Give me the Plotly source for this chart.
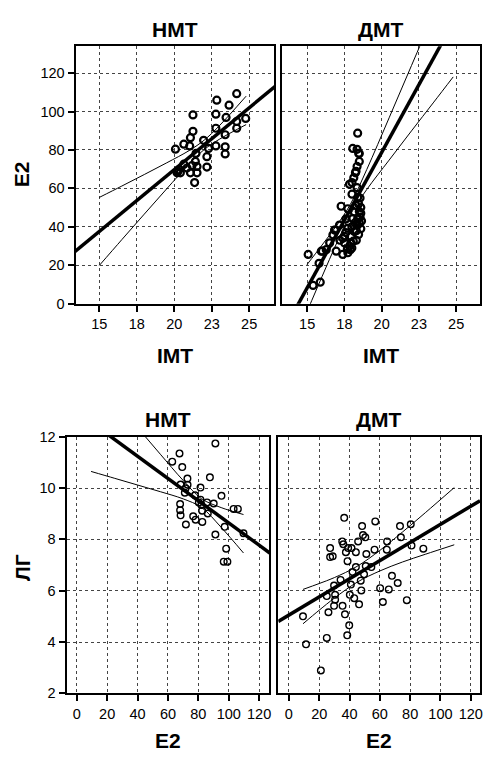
import plotly.graph_objects as go

# ---------------- data ----------------
# Top-left: НМТ, IMT vs E2
imt_nmt = [20.08, 20.64, 21.03, 21.08, 21.25, 21.25, 20.24, 20.41, 20.64, 20.30,
           21.08, 21.19, 21.41, 21.52, 21.45, 21.36, 21.52, 21.96, 22.18, 22.18,
           22.29, 22.78, 22.84, 22.78, 22.78, 23.66, 23.46, 23.40, 23.40, 23.40,
           24.17, 24.17, 24.17, 24.77, 20.19, 20.85]
e2_nmt_a = [80.4, 83.0, 82.1, 86.4, 89.7, 98.2, 68.9, 68.1, 72.6, 69.7,
            68.1, 71.9, 74.0, 71.4, 78.2, 63.0, 68.1, 85.0, 71.1, 76.5,
            80.8, 98.6, 105.9, 91.3, 82.1, 103.3, 96.9, 87.9, 81.6, 77.9,
            109.3, 94.8, 91.3, 96.4, 68.1, 70.6]

# Top-right: ДМТ, IMT vs E2
imt_dmt = [18.39, 18.06, 18.35, 18.50, 18.50, 18.35, 18.24, 18.13, 18.01, 17.84,
           18.01, 18.39, 17.28, 17.73, 18.28, 18.17, 18.39, 18.06, 18.39, 17.17,
           16.84, 17.73, 18.17, 16.73, 17.51, 17.95, 16.51, 17.51, 17.84, 16.28,
           16.95, 16.02, 17.39, 15.07, 15.80, 15.40, 15.88, 17.73, 17.95, 18.35,
           18.28, 18.46, 18.50, 18.55, 18.50, 18.60, 18.45, 18.30, 18.45, 18.60,
           18.20, 18.00, 17.60, 17.40, 17.20, 17.90, 18.00, 18.30, 18.10, 17.60,
           17.70, 18.55, 18.60, 18.65, 16.90, 15.95]
e2_dmt_a = [88.7, 80.8, 80.3, 78.2, 74.0, 71.4, 68.1, 65.5, 63.0, 62.1,
            57.0, 55.3, 50.7, 49.4, 51.1, 47.7, 44.3, 44.3, 40.9, 40.9,
            38.3, 39.2, 37.5, 35.8, 35.0, 35.0, 31.6, 31.6, 29.9, 28.1,
            27.3, 27.3, 25.6, 25.6, 21.0, 9.5, 11.2, 26.5, 31.6, 60.4,
            68.9, 78.2, 48.0, 45.0, 42.0, 50.0, 52.0, 38.0, 36.0, 39.0,
            42.0, 40.0, 37.0, 34.0, 33.0, 28.0, 29.0, 33.0, 32.5, 44.0,
            28.5, 55.0, 47.0, 43.0, 38.3, 27.3]

# Bottom-left: НМТ, E2 vs ЛГ
e2_nmt_b = [91.2, 67.6, 62.8, 69.4, 87.6, 72.8, 68.3, 72.9, 71.6, 81.4,
            71.1, 77.8, 95.2, 81.4, 80.3, 82.0, 90.1, 85.7, 68.0, 68.0,
            68.3, 82.5, 86.2, 76.6, 78.2, 82.6, 71.8, 103.2, 106.0, 97.3,
            91.2, 109.7, 98.3, 96.7, 99.1]
lh_nmt = [11.74, 11.35, 11.03, 10.82, 10.42, 10.37, 10.14, 10.13, 9.99, 10.02,
          9.82, 9.72, 9.70, 9.55, 9.44, 9.34, 9.40, 9.44, 9.38, 9.14,
          8.94, 9.12, 9.01, 8.90, 8.77, 8.68, 8.58, 9.19, 9.19, 8.49,
          8.19, 8.24, 7.64, 7.13, 7.13]

# Bottom-right: ДМТ, E2 vs ЛГ
e2_dmt_b = [36.5, 57.0, 48.3, 73.3, 80.4, 48.9, 50.4, 73.9, 64.8, 35.2,
            35.9, 45.7, 39.1, 41.3, 27.2, 37.6, 44.2, 51.1, 56.5, 64.6,
            80.9, 88.7, 27.2, 28.9, 38.7, 44.2, 50.7, 54.4, 42.0, 49.6,
            47.4, 34.1, 29.8, 40.9, 68.0, 71.8, 60.2, 65.9, 25.0, 30.5,
            30.5, 40.2, 47.8, 43.1, 46.3, 35.4, 29.8, 26.1, 37.0, 62.0,
            77.8, 9.3, 39.8, 38.5, 25.0, 11.3, 21.1]
lh_dmt = [8.84, 8.70, 8.52, 8.52, 8.59, 8.17, 8.08, 8.08, 7.92, 7.92,
          7.81, 7.92, 7.66, 7.66, 7.66, 7.50, 7.50, 7.43, 7.60, 7.60,
          7.76, 7.64, 7.31, 7.34, 7.15, 6.92, 6.96, 6.92, 6.73, 6.64,
          6.39, 6.42, 6.20, 6.24, 6.58, 6.30, 6.10, 6.05, 5.79, 5.84,
          5.65, 5.84, 6.01, 5.71, 5.47, 5.41, 5.41, 5.16, 5.08, 5.56,
          5.63, 5.00, 4.65, 4.26, 4.16, 3.91, 2.89]

# Regression lines (end points) and mean-confidence bands (read points)
fit_a_x = [13.3, 26.8]
fit_a_y = [26.7, 113.5]
band_a_x = [15, 16.5, 18, 19.5, 21, 22, 23, 24.8]
band_a_hi = [55.3, 61.2, 67.2, 73.3, 79.7, 85.1, 92.5, 108.0]
band_a_lo = [19.9, 33.3, 46.6, 59.8, 72.7, 80.2, 85.5, 93.2]

fit_b_x = [14.0, 24.0]
fit_b_y = [-5.9, 135.1]
band_b_x = [15, 16, 17, 17.9, 19, 20.5, 22, 23.5, 24.8]
band_b_hi = [20.4, 30.5, 40.9, 51.7, 69.8, 96.7, 123.9, 151.1, 174.8]
band_b_lo = [-4.0, 14.1, 31.8, 46.4, 59.4, 74.7, 89.9, 104.9, 118.0]

fit_c_x = [-7, 127]
fit_c_y = [13.28, 7.47]
band_c_x = [9.4, 25, 40, 55, 70, 82, 95, 109.7]
band_c_hi = [14.49, 13.40, 12.36, 11.32, 10.30, 9.59, 9.24, 8.97]
band_c_lo = [10.65, 10.38, 10.12, 9.86, 9.58, 9.25, 8.47, 7.47]

fit_d_x = [-7, 126.1]
fit_d_y = [4.80, 9.51]
band_d_x = [9.3, 20, 30, 45, 60, 75, 90, 109.1]
band_d_hi = [6.05, 6.28, 6.51, 6.95, 7.57, 8.29, 9.04, 10.02]
band_d_lo = [4.71, 5.24, 5.71, 6.33, 6.77, 7.12, 7.42, 7.79]

top_xticks = [15, 17.5, 20, 22.5, 25]
top_xtext = ["15", "18", "20", "23", "25"]
top_yticks = [0, 20, 40, 60, 80, 100, 120]
bot_xticks = [0, 20, 40, 60, 80, 100, 120]
bot_yticks = [2, 4, 6, 8, 10, 12]

# ---------------- figure ----------------
W, H = 487, 762
FONT = "Liberation Sans, Arial, sans-serif"

def dx(a, b):
    return [a / W, b / W]

def dy(top, bot):
    return [1 - bot / H, 1 - top / H]

fig = go.Figure()

panels = [
    ("x", "y", imt_nmt, e2_nmt_a, fit_a_x, fit_a_y, band_a_x, band_a_hi, band_a_lo, 7.0, 2.2),
    ("x2", "y2", imt_dmt, e2_dmt_a, fit_b_x, fit_b_y, band_b_x, band_b_hi, band_b_lo, 7.0, 2.2),
    ("x3", "y3", e2_nmt_b, lh_nmt, fit_c_x, fit_c_y, band_c_x, band_c_hi, band_c_lo, 6.6, 1.4),
    ("x4", "y4", e2_dmt_b, lh_dmt, fit_d_x, fit_d_y, band_d_x, band_d_hi, band_d_lo, 6.6, 1.4),
]

for xa, ya, px, py, fx, fy, bx, bh, bl, ms, mw in panels:
    fig.add_trace(go.Scatter(x=px, y=py, mode="markers", xaxis=xa, yaxis=ya,
                             marker=dict(symbol="circle-open", size=ms, color="black",
                                         line=dict(width=mw, color="black"))))
    fig.add_trace(go.Scatter(x=bx, y=bh, mode="lines", xaxis=xa, yaxis=ya,
                             line=dict(color="black", width=1, shape="spline")))
    fig.add_trace(go.Scatter(x=bx, y=bl, mode="lines", xaxis=xa, yaxis=ya,
                             line=dict(color="black", width=1, shape="spline")))
    fig.add_trace(go.Scatter(x=fx, y=fy, mode="lines", xaxis=xa, yaxis=ya,
                             line=dict(color="black", width=3.5)))

axis_common = dict(showline=True, linewidth=2, linecolor="black", mirror=True,
                   showgrid=True, gridcolor="#444444", gridwidth=1, griddash="dot",
                   zeroline=False, ticks="outside", ticklen=6, tickwidth=2,
                   tickcolor="black", tickfont=dict(family=FONT, size=14.5, color="black"))
yaxis_noticks = dict(showline=True, linewidth=2, linecolor="black", mirror=True,
                     showgrid=True, gridcolor="#444444", gridwidth=1, griddash="dot",
                     zeroline=False, ticks="", showticklabels=False)

fig.update_layout(
    width=W, height=H, margin=dict(l=0, r=0, t=0, b=0),
    paper_bgcolor="white", plot_bgcolor="white", showlegend=False,
    xaxis=dict(domain=dx(76, 276), range=[13.41, 26.68], anchor="y",
               tickvals=top_xticks, ticktext=top_xtext, **axis_common),
    yaxis=dict(domain=dy(39, 302), range=[0, 134], anchor="x",
               tickvals=top_yticks, **axis_common),
    xaxis2=dict(domain=dx(284, 483), range=[13.33, 26.6], anchor="y2",
                tickvals=top_xticks, ticktext=top_xtext, **axis_common),
    yaxis2=dict(domain=dy(39, 302), range=[0, 134], anchor="x2",
                tickvals=top_yticks, **yaxis_noticks),
    xaxis3=dict(domain=dx(67, 271), range=[-6.7, 126.7], anchor="y3",
                tickvals=bot_xticks, **axis_common),
    yaxis3=dict(domain=dy(438, 700), range=[2, 12], anchor="x3",
                tickvals=bot_yticks, **axis_common),
    xaxis4=dict(domain=dx(280, 483), range=[-7, 126.1], anchor="y4",
                tickvals=bot_xticks, **axis_common),
    yaxis4=dict(domain=dy(438, 700), range=[2, 12], anchor="x4",
                tickvals=bot_yticks, **yaxis_noticks),
)

def label(text, x, y, angle=0):
    fig.add_annotation(text="<b>" + text + "</b>", x=x / W, y=1 - y / H,
                       xref="paper", yref="paper", showarrow=False,
                       xanchor="center", yanchor="middle", textangle=angle,
                       font=dict(family=FONT, size=21, color="black"))

label("НМТ", 176, 22)
label("ДМТ", 383, 22)
label("E2", 22, 170, -90)
label("IMT", 176, 355)
label("IMT", 383, 355)
label("НМТ", 169, 420)
label("ДМТ", 381, 420)
label("ЛГ", 22, 571, -90)
label("E2", 169, 748)
label("E2", 381, 748)

fig.write_html("out.html")
